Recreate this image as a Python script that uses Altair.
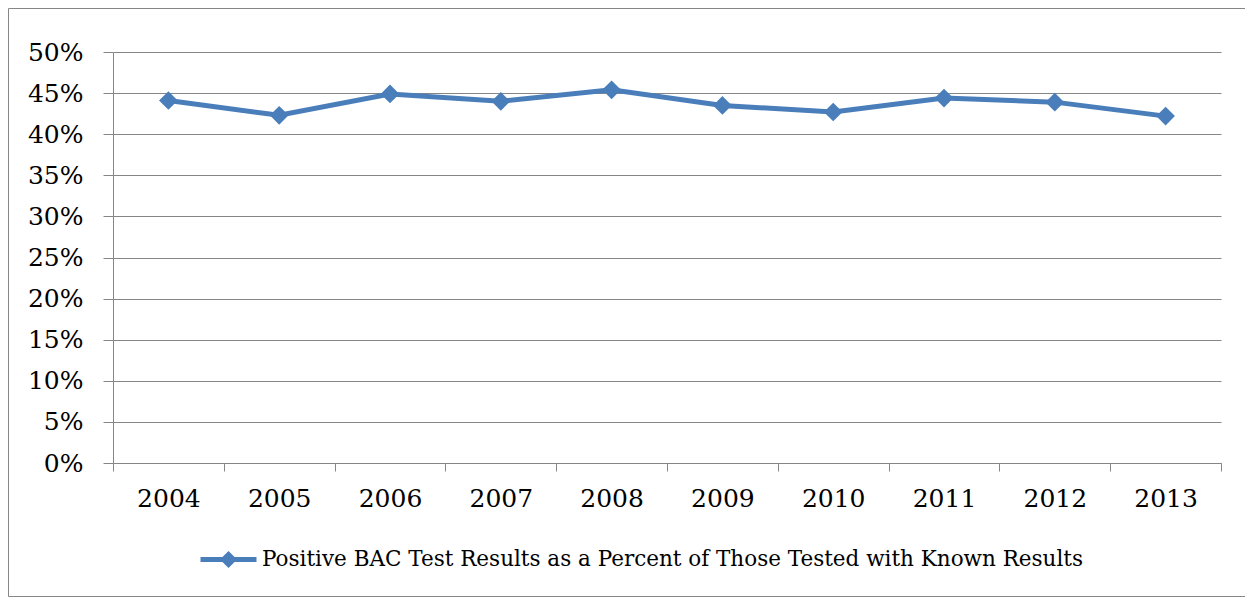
import altair as alt
import pandas as pd

years = ["2004", "2005", "2006", "2007", "2008", "2009", "2010", "2011", "2012", "2013"]
values = [44.1, 42.3, 44.9, 44.0, 45.4, 43.5, 42.7, 44.4, 43.9, 42.2]
y_ticks = [0, 5, 10, 15, 20, 25, 30, 35, 40, 45, 50]
series_name = "Positive BAC Test Results as a Percent of Those Tested with Known Results"

df = pd.DataFrame({"year": years, "value": values, "series": [series_name] * len(years)})

BLUE = "#4A7EBB"
GRID = "#868686"
FONT = "DejaVu Serif"
W, H = 1108, 411
SYM_PATH = "M-1,0L1,0M0,-0.18L0.18,0L0,0.18L-0.18,0Z"

x_enc = alt.X(
    "year:O",
    sort=years,
    bandPosition=0.5,
    scale=alt.Scale(type="band", paddingInner=0, paddingOuter=0),
    axis=alt.Axis(
        title=None, labelAngle=0, tickBand="extent", tickSize=8, labelPadding=15,
        domainColor=GRID, tickColor=GRID, domainWidth=1, tickWidth=1, grid=False,
        labelFont=FONT, labelFontSize=25, labelColor="black",
    ),
)
y_enc = alt.Y(
    "value:Q",
    scale=alt.Scale(domain=[0, 50], nice=False, zero=True),
    axis=alt.Axis(
        title=None, values=y_ticks, labelExpr="datum.value + '%'",
        tickSize=10, labelPadding=20, grid=True, gridColor=GRID, gridWidth=1,
        domainColor=GRID, tickColor=GRID, domainWidth=1, tickWidth=1,
        labelFont=FONT, labelFontSize=25, labelColor="black",
    ),
)

legend = alt.Legend(
    orient="none", legendX=85, legendY=477, title=None,
    labelFont=FONT, labelFontSize=21.5, labelColor="black", labelLimit=2000,
    symbolType=SYM_PATH, symbolSize=3136, symbolStrokeWidth=5,
    symbolFillColor=BLUE, symbolStrokeColor=BLUE, symbolOffset=0, labelOffset=3,
    symbolOpacity=1, padding=0,
)

color = alt.Color("series:N", scale=alt.Scale(range=[BLUE]), legend=legend)

line = alt.Chart(df).mark_line(strokeWidth=5, color=BLUE).encode(
    x=x_enc, y=y_enc, color=color
)
points = alt.Chart(df).mark_point(shape="diamond", filled=True, size=350, opacity=1).encode(
    x=x_enc, y=y_enc, color=alt.Color("series:N", scale=alt.Scale(range=[BLUE]), legend=None)
)

border_df = pd.DataFrame({"k": [1]})
border = alt.Chart(border_df).mark_rect(filled=False, stroke=GRID, strokeWidth=1).encode(
    x=alt.value(-104.5), x2=alt.value(W + 60), y=alt.value(-43.5), y2=alt.value(H + 133.5)
)

chart = alt.layer(border, line, points).properties(
    width=W, height=H,
    autosize=alt.AutoSizeParams(type="none"),
    padding={"left": 105, "top": 44, "right": 24, "bottom": 134},
    background="white",
).configure_view(stroke=None)

chart.save("out.html", embed_options={"renderer": "svg", "actions": False})
